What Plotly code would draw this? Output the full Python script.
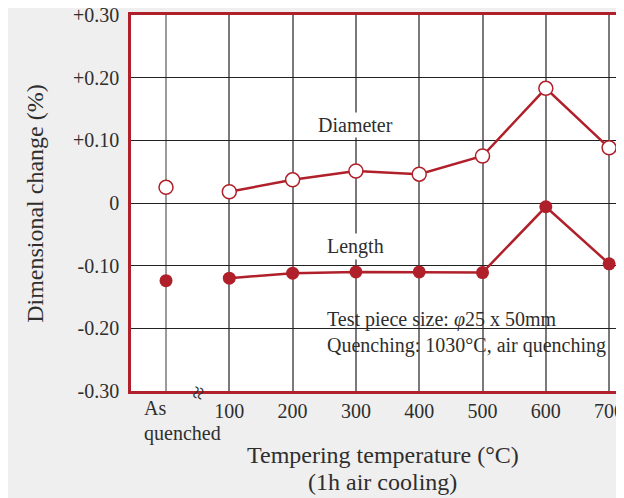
import plotly.graph_objects as go

categories = ["As quenched", "100", "200", "300", "400", "500", "600", "700"]
x_pos = [0, 100, 200, 300, 400, 500, 600, 700]
diameter = [0.025, 0.018, 0.037, 0.051, 0.046, 0.075, 0.183, 0.088]
length = [-0.124, -0.120, -0.112, -0.110, -0.110, -0.111, -0.006, -0.097]
y_ticks = [-0.30, -0.20, -0.10, 0, 0.10, 0.20, 0.30]
y_labels = ["-0.30", "-0.20", "-0.10", "0", "+0.10", "+0.20", "+0.30"]

RED = "#b0202a"
FONT = "Liberation Serif"
TXT = "#2e2e2e"

fig = go.Figure()

fig.add_trace(go.Scatter(x=x_pos[1:], y=diameter[1:], mode="lines+markers",
                         line=dict(color=RED, width=2.5),
                         marker=dict(size=14, color="white", line=dict(color=RED, width=1.5)),
                         showlegend=False, cliponaxis=False))
fig.add_trace(go.Scatter(x=x_pos[:1], y=diameter[:1], mode="markers",
                         marker=dict(size=14, color="white", line=dict(color=RED, width=1.5)),
                         showlegend=False))
fig.add_trace(go.Scatter(x=x_pos[1:], y=length[1:], mode="lines+markers",
                         line=dict(color=RED, width=2.5),
                         marker=dict(size=13, color=RED),
                         showlegend=False, cliponaxis=False))
fig.add_trace(go.Scatter(x=x_pos[:1], y=length[:1], mode="markers",
                         marker=dict(size=13, color=RED),
                         showlegend=False))

fig.update_layout(
    width=616, height=490,
    margin=dict(l=123, r=0, t=7, b=107, autoexpand=False),
    paper_bgcolor="#efefef", plot_bgcolor="white",
    font=dict(family=FONT, size=20, color=TXT),
    xaxis=dict(range=[-55.3, 723.5], tickvals=x_pos[1:], ticktext=categories[1:],
               showgrid=True, gridcolor="#7a7a7a", gridwidth=1.5,
               showline=True, linecolor=RED, linewidth=2.5, mirror=True,
               zeroline=False, ticks="", ticklabeloverflow="allow", automargin=False,
               tickfont=dict(size=20, family=FONT, color=TXT)),
    yaxis=dict(range=[-0.3, 0.3], tickvals=y_ticks, ticktext=y_labels,
               showgrid=True, gridcolor="#222222", gridwidth=1,
               showline=True, linecolor=RED, linewidth=2.5, mirror=False,
               zeroline=False, ticks="", ticklabelstandoff=5, ticklabeloverflow="allow",
               automargin=False,
               tickfont=dict(size=20, family=FONT, color=TXT)),
)

fig.add_shape(type="line", xref="x", yref="paper", x0=0, x1=0, y0=0, y1=1,
              line=dict(color="#7a7a7a", width=1.5), layer="between")

fig.add_shape(type="rect", xref="paper", yref="paper", x0=0.363, x1=1.0, y0=0.077, y1=0.247,
              fillcolor="white", line=dict(width=0), layer="between")

def txt(text, x, y, xref="paper", yref="paper", size=20, **kw):
    d = dict(text=text, x=x, y=y, xref=xref, yref=yref, showarrow=False,
             font=dict(size=size, family=FONT, color=TXT))
    d.update(kw)
    return d

ann = [
    txt("As", -38, -0.045, xref="x", xanchor="left", yanchor="middle"),
    txt("quenched", -38, -0.112, xref="x", xanchor="left", yanchor="middle"),
    txt("Tempering temperature (°C)", 0.511, -0.170, size=24, xanchor="center", yanchor="middle"),
    txt("(1h air cooling)", 0.511, -0.242, size=24, xanchor="center", yanchor="middle"),
    txt("Dimensional change (%)", -0.195, 0.5, size=24, textangle=-90,
        xanchor="center", yanchor="middle"),
    txt("Diameter", 300, 0.125, xref="x", yref="y", bgcolor="white"),
    txt("Length", 300, -0.070, xref="x", yref="y", bgcolor="white"),
    txt("Test piece size: <i>φ</i>25 x 50mm", 0.393, 0.189, xanchor="left", yanchor="middle"),
    txt("Quenching: 1030°C, air quenching", 0.393, 0.122, xanchor="left", yanchor="middle"),
    txt("≈", 51, -0.038, xref="x", size=24, textangle=-75),
]
fig.update_layout(annotations=ann)

fig.write_html("out.html")
